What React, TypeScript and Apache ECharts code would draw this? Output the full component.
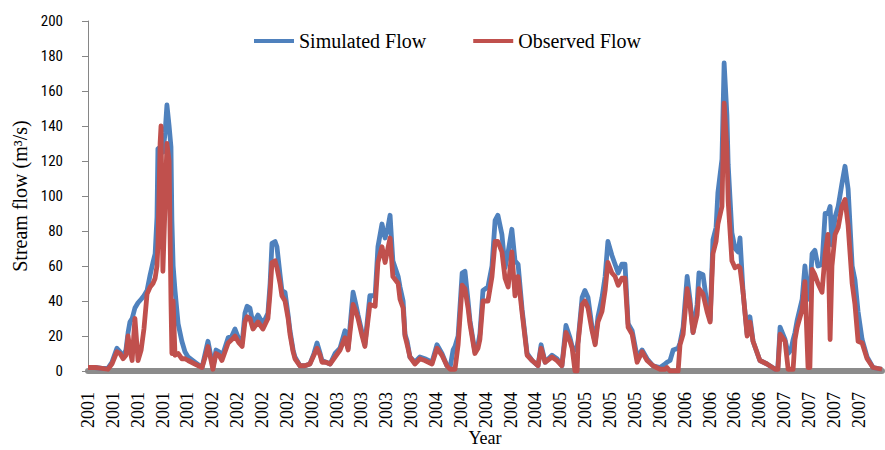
import React, { useEffect, useRef } from "react";
import * as echarts from "echarts";

// Day index counted from 1 Jan 2001 (shared by both series)
const days = [
  0, 23, 45, 64, 77, 93, 103, 113, 122, 129,
  135, 142, 151, 161, 171, 180, 190, 200, 209, 216,
  222, 225, 232, 235, 241, 248, 254, 261, 267, 270,
  274, 280, 290, 302, 312, 322, 344, 367, 377, 386,
  396, 402, 412, 422, 431, 451, 463, 473, 486, 496,
  505, 512, 521, 531, 547, 563, 579, 586, 592, 602,
  608, 618, 624, 634, 644, 650, 660, 666, 682, 698,
  714, 727, 737, 747, 753, 766, 779, 795, 811, 827,
  837, 853, 862, 869, 882, 891, 907, 924, 933, 946,
  956, 965, 972, 981, 998, 1004, 1014, 1020, 1027, 1036,
  1052, 1068, 1084, 1107, 1123, 1139, 1155, 1165, 1175, 1181,
  1191, 1204, 1213, 1223, 1229, 1245, 1255, 1261, 1271, 1287,
  1300, 1310, 1319, 1332, 1342, 1352, 1364, 1374, 1384, 1397,
  1413, 1429, 1448, 1458, 1471, 1493, 1509, 1525, 1538, 1551,
  1558, 1567, 1574, 1577, 1590, 1599, 1609, 1622, 1632, 1641,
  1654, 1664, 1673, 1686, 1696, 1706, 1718, 1728, 1738, 1751,
  1767, 1783, 1799, 1818, 1841, 1857, 1863, 1873, 1883, 1899,
  1905, 1915, 1928, 1937, 1947, 1960, 1966, 1979, 1992, 2002,
  2011, 2021, 2027, 2040, 2047, 2056, 2060, 2072, 2082, 2092,
  2098, 2108, 2121, 2130, 2140, 2162, 2185, 2211, 2220, 2227,
  2243, 2253, 2262, 2269, 2275, 2282, 2298, 2307, 2317, 2323,
  2330, 2339, 2349, 2362, 2372, 2381, 2388, 2394, 2404, 2414,
  2426, 2436, 2446, 2459, 2468, 2478, 2491, 2507, 2526, 2555,
];

const simulatedFlow = [
  2, 2, 1.5, 1.5, 5, 13, 11, 8, 12, 22,
  28, 30, 36, 39, 41, 43, 46, 55, 62, 67,
  88, 127, 128, 130, 125, 136, 152, 140, 128, 86,
  60, 46, 27, 17, 11, 8, 5, 2, 10, 17,
  8, 2, 12, 11, 8, 19, 20, 24, 18, 16,
  33, 37, 36, 27, 32, 27, 33, 50, 73, 74,
  71, 55, 46, 45, 32, 23, 12, 8, 3, 3,
  4, 10, 16, 10, 6, 5, 4, 10, 13, 23,
  13, 45, 38, 32, 22, 15, 43, 43, 71, 84,
  76, 82, 89, 63, 54, 48, 40, 21, 17, 8,
  5, 8, 7, 5, 15, 10, 3, 2, 12, 14,
  20, 56, 57, 40, 29, 11, 15, 21, 46, 48,
  60, 86, 89, 78, 59, 68, 81, 63, 61, 35,
  10, 6, 3, 15, 5, 9, 7, 3, 26, 19,
  14, 12, 14, 17, 42, 46, 42, 25, 16, 31,
  42, 54, 74, 66, 61, 56, 61, 61, 27, 23,
  8, 12, 7, 3, 2, 4, 5, 6, 12, 13,
  16, 25, 54, 41, 22, 38, 56, 55, 38, 29,
  75, 82, 102, 121, 176, 146, 118, 79, 70, 68,
  76, 45, 21, 31, 17, 6, 4, 1, 2, 25,
  18, 10, 12, 18, 22, 29, 41, 60, 41, 45,
  67, 69, 60, 61, 90, 90, 94, 72, 88, 94,
  107, 117, 104, 60, 52, 34, 18, 8, 2, 1,
];

const observedFlow = [
  2, 2, 1.5, 1, 4, 11, 10, 7, 9, 20,
  12, 6, 30, 6, 12, 24, 44, 48, 50, 53,
  60, 72, 130, 140, 57, 95, 130, 120, 40, 10,
  40, 9, 10, 7, 7, 6, 4, 2, 8, 14,
  6, 1, 10, 9, 6, 16, 18, 20, 16, 14,
  28, 31, 30, 24, 28, 24, 30, 45, 62, 63,
  59, 50, 43, 40, 30, 21, 11, 7, 3, 3,
  4, 9, 13, 9, 5, 5, 4, 8, 12, 19,
  12, 38, 34, 30, 20, 14, 38, 37, 62, 71,
  62, 70, 76, 54, 50, 41, 36, 20, 15, 8,
  4, 7, 6, 4, 13, 9, 3, 1, 1, 1,
  15, 49, 47, 36, 27, 10, 13, 18, 40, 40,
  54, 74, 74, 68, 53, 48, 68, 43, 54, 33,
  9, 6, 3, 13, 5, 8, 6, 3, 22, 17,
  13, 0, 0, 16, 38, 40, 36, 23, 15, 28,
  34, 46, 62, 56, 54, 49, 53, 53, 25, 21,
  5, 11, 6, 3, 1, 1, 2, 0, 0, 0,
  15, 21, 47, 38, 22, 32, 47, 44, 34, 28,
  67, 74, 84, 94, 153, 126, 97, 63, 59, 60,
  59, 45, 20, 28, 17, 6, 4, 1, 1, 21,
  17, 1, 1, 1, 18, 25, 35, 51, 2, 2,
  58, 55, 50, 45, 67, 78, 18, 60, 78, 82,
  94, 98, 83, 50, 38, 17, 16, 7, 2, 1,
];

// Tick labels every 80 days
const yearLabels = [
  "2001", "2001", "2001", "2001", "2001",
  "2002", "2002", "2002", "2002", "2002",
  "2003", "2003", "2003", "2003",
  "2004", "2004", "2004", "2004", "2004",
  "2005", "2005", "2005", "2005",
  "2006", "2006", "2006", "2006", "2006",
  "2007", "2007", "2007", "2007",
];
const tickStepDays = 80;
const lastDay = 2555;

const seriesNames = ["Simulated Flow", "Observed Flow"];
const seriesColors = ["#4F81BD", "#C0504D"];

export default function App() {
  const ref = useRef<HTMLDivElement>(null);

  useEffect(() => {
    if (!ref.current) return;
    const chart = echarts.init(ref.current, null, { renderer: "svg" });
    const serif = "'Liberation Serif', 'Times New Roman', serif";
    const option = {
      animation: false,
      backgroundColor: "#ffffff",
      grid: {
        left: 88,
        right: 3,
        top: 21,
        bottom: 79,
        containLabel: false,
        outerBoundsMode: "none",
      },
      legend: {
        data: seriesNames,
        left: 249,
        top: 26,
        icon: "rect",
        itemWidth: 40,
        itemHeight: 4,
        itemGap: 47,
        textStyle: { fontFamily: serif, fontSize: 20, color: "#000" },
      },
      xAxis: {
        type: "value",
        min: 0,
        max: lastDay,
        interval: tickStepDays,
        offset: 3,
        name: "Year",
        nameLocation: "middle",
        nameGap: 55,
        nameMoveOverlap: false,
        nameTextStyle: { fontFamily: serif, fontSize: 18, color: "#000" },
        axisLine: { show: true, lineStyle: { color: "#8C8C8C", width: 6 } },
        axisTick: { show: false },
        splitLine: { show: false },
        axisLabel: {
          rotate: 90,
          margin: 18,
          showMaxLabel: false,
          fontFamily: serif,
          fontSize: 18,
          color: "#000",
          formatter: (v: number) => yearLabels[Math.round(v / tickStepDays)] ?? "",
        },
      },
      yAxis: {
        type: "value",
        min: 0,
        max: 200,
        interval: 20,
        name: "Stream flow (m³/s)",
        nameLocation: "middle",
        nameGap: 58,
        nameMoveOverlap: false,
        nameTextStyle: { fontFamily: serif, fontSize: 20, color: "#000" },
        axisLine: { show: true, lineStyle: { color: "#868686", width: 1 } },
        axisTick: { show: true, length: 6, lineStyle: { color: "#868686" } },
        splitLine: { show: false },
        axisLabel: {
          margin: 25,
          fontFamily: "'Liberation Sans Narrow', 'Roboto Condensed', Roboto, sans-serif",
          fontSize: 15,
          color: "#000",
        },
      },
      series: [
        {
          name: seriesNames[0],
          type: "line",
          data: days.map((d, i) => [d, simulatedFlow[i]]),
          showSymbol: false,
          symbol: "none",
          color: seriesColors[0],
          lineStyle: { width: 4.8, color: seriesColors[0], join: "round" },
          z: 2,
        },
        {
          name: seriesNames[1],
          type: "line",
          data: days.map((d, i) => [d, observedFlow[i]]),
          showSymbol: false,
          symbol: "none",
          color: seriesColors[1],
          lineStyle: { width: 4.8, color: seriesColors[1], join: "round" },
          z: 3,
        },
      ],
    };
    chart.setOption(option as any);
    return () => chart.dispose();
  }, []);

  return (
    <div
      ref={ref}
      style={{ position: "fixed", left: 0, top: 0, width: 885, height: 450, background: "#fff" }}
    />
  );
}
